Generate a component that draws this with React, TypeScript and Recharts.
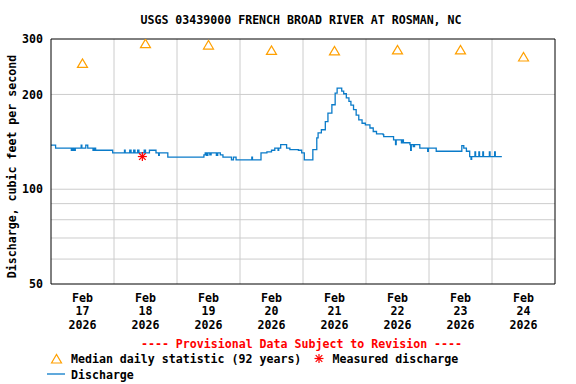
import React from 'react';
import { ComposedChart, Line, Scatter, XAxis, YAxis, ReferenceLine } from 'recharts';

const dischargeHours = [
  0, 1.75, 7.75, 8.25, 8.75, 9.25, 11.5, 11.75, 13.25, 14, 16, 16.5, 17,
  23.5, 28, 28.25, 30, 30.5, 31.5, 32, 33, 33.5, 35.5, 36, 37.5, 40, 41, 41.25, 44.5,
  58.25, 58.75, 59.25, 59.75, 60.5, 61, 63, 63.5, 64.5, 65.5, 68.75, 69.5, 70.5, 76.5, 76.75,
  80, 82.25, 84, 85.25, 86.5, 86.75, 87.5, 89.75, 91, 94.25, 95.5, 96.5,
  99.75, 101.25, 101.75, 103, 104.5, 105.5, 107, 108.25, 109, 110.75, 111.5, 112.5, 113.5,
  114.25, 115.25, 116.25, 117.25, 118.5, 119.75, 121.5, 122.75, 124, 126.5, 126.75,
  130.5, 131.25, 131.5, 133.5, 133.75, 134.25, 136.75, 137, 137.25, 138, 138.5, 140.5,
  143.5, 143.75, 146.75, 156.5, 157.25, 158.25, 159.5, 160, 160.25, 161.5, 161.75,
  163, 163.25, 164.5, 164.75, 167, 167.25, 169, 169.25, 171.75,
];
const dischargeCfs = [
  138, 135, 133, 135, 133, 135, 138, 135, 138, 135, 133, 135, 133,
  130.5, 133, 130.5, 133, 130.5, 133, 130.5, 133, 130.5, 133, 130.5, 133, 130.5, 128, 130.5, 126.5,
  128.5, 130.5, 128, 130.5, 128.5, 130.5, 128, 130.5, 128.5, 126.5, 124, 126.5, 124, 126.5, 124,
  130.5, 131.5, 133, 135, 133, 135, 138.5, 135, 133.5, 133, 130.5, 124,
  133.5, 145.5, 151, 154.5, 164, 174.5, 185.5, 202, 209.5, 205, 201, 195, 190,
  185, 179, 172, 166, 162, 160, 156.5, 152.5, 150, 149, 147,
  143.5, 138.5, 143.5, 140.5, 143.5, 140.5, 138.5, 133, 138.5, 136.5, 138.5, 135,
  132, 135, 132, 137.5, 135, 132, 127, 124.5, 127, 131.5, 127,
  131.5, 127, 131.5, 127, 131.5, 127, 131.5, 127, 127,
];

const medianHours = [12, 36, 60, 84, 108, 132, 156, 180];
const medianCfs = [251, 290, 287, 276, 275, 277, 277, 263];

const measuredHours = [34.8];
const measuredCfs = [127];

const dayTickHours = [12, 36, 60, 84, 108, 132, 156, 180];
const dayTickMonth = 'Feb';
const dayTickDays = ['17', '18', '19', '20', '21', '22', '23', '24'];
const dayTickYear = '2026';
const dayBoundaryHours = [24, 48, 72, 96, 120, 144, 168];

const yTicks = [50, 100, 200, 300];
const yGridValues = [60, 70, 80, 90, 100, 200];

const titleText = 'USGS 03439000 FRENCH BROAD RIVER AT ROSMAN, NC';
const yAxisTitle = 'Discharge, cubic feet per second';
const provisionalText = '---- Provisional Data Subject to Revision ----';
const legendMedian = 'Median daily statistic (92 years)';
const legendMeasured = 'Measured discharge';
const legendDischarge = 'Discharge';

const dischargeData = dischargeHours.map((h, i) => ({ h, v: dischargeCfs[i] }));
const medianData = medianHours.map((h, i) => ({ h, v: medianCfs[i] }));
const measuredData = measuredHours.map((h, i) => ({ h, v: measuredCfs[i] }));

const LINE = '#0a7bc9';
const ORANGE = '#ffa000';
const RED = '#ff0000';
const GRID = '#cccccc';
const FONT: React.CSSProperties = {
  fontFamily: '"DejaVu Sans Mono", monospace',
  fontWeight: 'bold',
  fontSize: 11.6,
};

const DayTick = (props: any) => {
  const { x, y, payload } = props;
  const i = dayTickHours.indexOf(payload.value);
  return (
    <text x={x} y={y} textAnchor="middle" fill="#000" style={FONT}>
      <tspan x={x} dy={10}>{dayTickMonth}</tspan>
      <tspan x={x} dy={13.4}>{dayTickDays[i]}</tspan>
      <tspan x={x} dy={13.4}>{dayTickYear}</tspan>
    </text>
  );
};

const Triangle = (props: any) => {
  const { cx, cy } = props;
  if (cx == null || cy == null) return null;
  return (
    <polygon
      points={`${cx - 5},${cy + 4} ${cx},${cy - 4.5} ${cx + 5},${cy + 4}`}
      fill="none"
      stroke={ORANGE}
      strokeWidth={1.2}
    />
  );
};

const Star = (props: any) => {
  const { cx, cy } = props;
  if (cx == null || cy == null) return null;
  const r = 4.5;
  const d = 3.3;
  return (
    <g stroke={RED} strokeWidth={1.2}>
      <line x1={cx - r} y1={cy} x2={cx + r} y2={cy} />
      <line x1={cx} y1={cy - r} x2={cx} y2={cy + r} />
      <line x1={cx - d} y1={cy - d} x2={cx + d} y2={cy + d} />
      <line x1={cx - d} y1={cy + d} x2={cx + d} y2={cy - d} />
    </g>
  );
};

export default function App() {
  return (
    <div style={{ position: 'absolute', left: 0, top: 0, width: 576, height: 384, background: '#fff' }}>
      <ComposedChart width={576} height={384} margin={{ top: 39, right: 21, left: 0, bottom: 0 }}>
        <XAxis
          type="number"
          dataKey="h"
          domain={[0, 192]}
          ticks={dayTickHours}
          interval={0}
          height={100}
          tickLine={false}
          axisLine={{ stroke: '#000', strokeWidth: 1 }}
          tick={<DayTick />}
          allowDataOverflow
        />
        <YAxis
          type="number"
          dataKey="v"
          scale="log"
          domain={[50, 300]}
          ticks={yTicks}
          interval={0}
          width={51}
          tickLine={false}
          axisLine={{ stroke: '#000', strokeWidth: 1 }}
          tick={{ fill: '#000', style: FONT }}
          allowDataOverflow
          label={{
            content: () => (
              <text
                x={12}
                y={166.5}
                transform="rotate(-90 12 166.5)"
                textAnchor="middle"
                dominantBaseline="central"
                fill="#000"
                style={FONT}
              >
                {yAxisTitle}
              </text>
            ),
          }}
        />
        {yGridValues.map((v) => (
          <ReferenceLine key={'y' + v} y={v} stroke={GRID} strokeWidth={1} />
        ))}
        {dayBoundaryHours.map((h) => (
          <ReferenceLine key={'x' + h} x={h} stroke={GRID} strokeWidth={1} />
        ))}
        <ReferenceLine y={300} stroke="#000" strokeWidth={1} />
        <ReferenceLine x={192} stroke="#000" strokeWidth={1} />
        <Line
          data={dischargeData}
          dataKey="v"
          type="stepAfter"
          stroke={LINE}
          strokeWidth={1.3}
          dot={false}
          activeDot={false}
          isAnimationActive={false}
        />
        <Scatter data={medianData} dataKey="v" shape={<Triangle />} isAnimationActive={false} />
        <Scatter data={measuredData} dataKey="v" shape={<Star />} isAnimationActive={false} />
      </ComposedChart>
      <svg
        width={576}
        height={384}
        style={{ position: 'absolute', left: 0, top: 0, pointerEvents: 'none' }}
      >
        <text x={301} y={20} textAnchor="middle" dominantBaseline="central" fill="#000" style={FONT}>
          {titleText}
        </text>
        <text x={301.5} y={344} textAnchor="middle" dominantBaseline="central" fill={RED} style={FONT}>
          {provisionalText}
        </text>
        <polygon points="51.5,363 56.5,354.5 61.5,363" fill="none" stroke={ORANGE} strokeWidth={1.2} />
        <text x={71} y={358.5} dominantBaseline="central" fill="#000" style={FONT}>
          {legendMedian}
        </text>
        <g stroke={RED} strokeWidth={1.2}>
          <line x1={314.5} y1={358.5} x2={323.5} y2={358.5} />
          <line x1={319} y1={354} x2={319} y2={363} />
          <line x1={315.7} y1={355.2} x2={322.3} y2={361.8} />
          <line x1={315.7} y1={361.8} x2={322.3} y2={355.2} />
        </g>
        <text x={332.5} y={358.5} dominantBaseline="central" fill="#000" style={FONT}>
          {legendMeasured}
        </text>
        <line x1={47} y1={374} x2={65} y2={374} stroke={LINE} strokeWidth={1.3} />
        <text x={71} y={374.5} dominantBaseline="central" fill="#000" style={FONT}>
          {legendDischarge}
        </text>
      </svg>
    </div>
  );
}
